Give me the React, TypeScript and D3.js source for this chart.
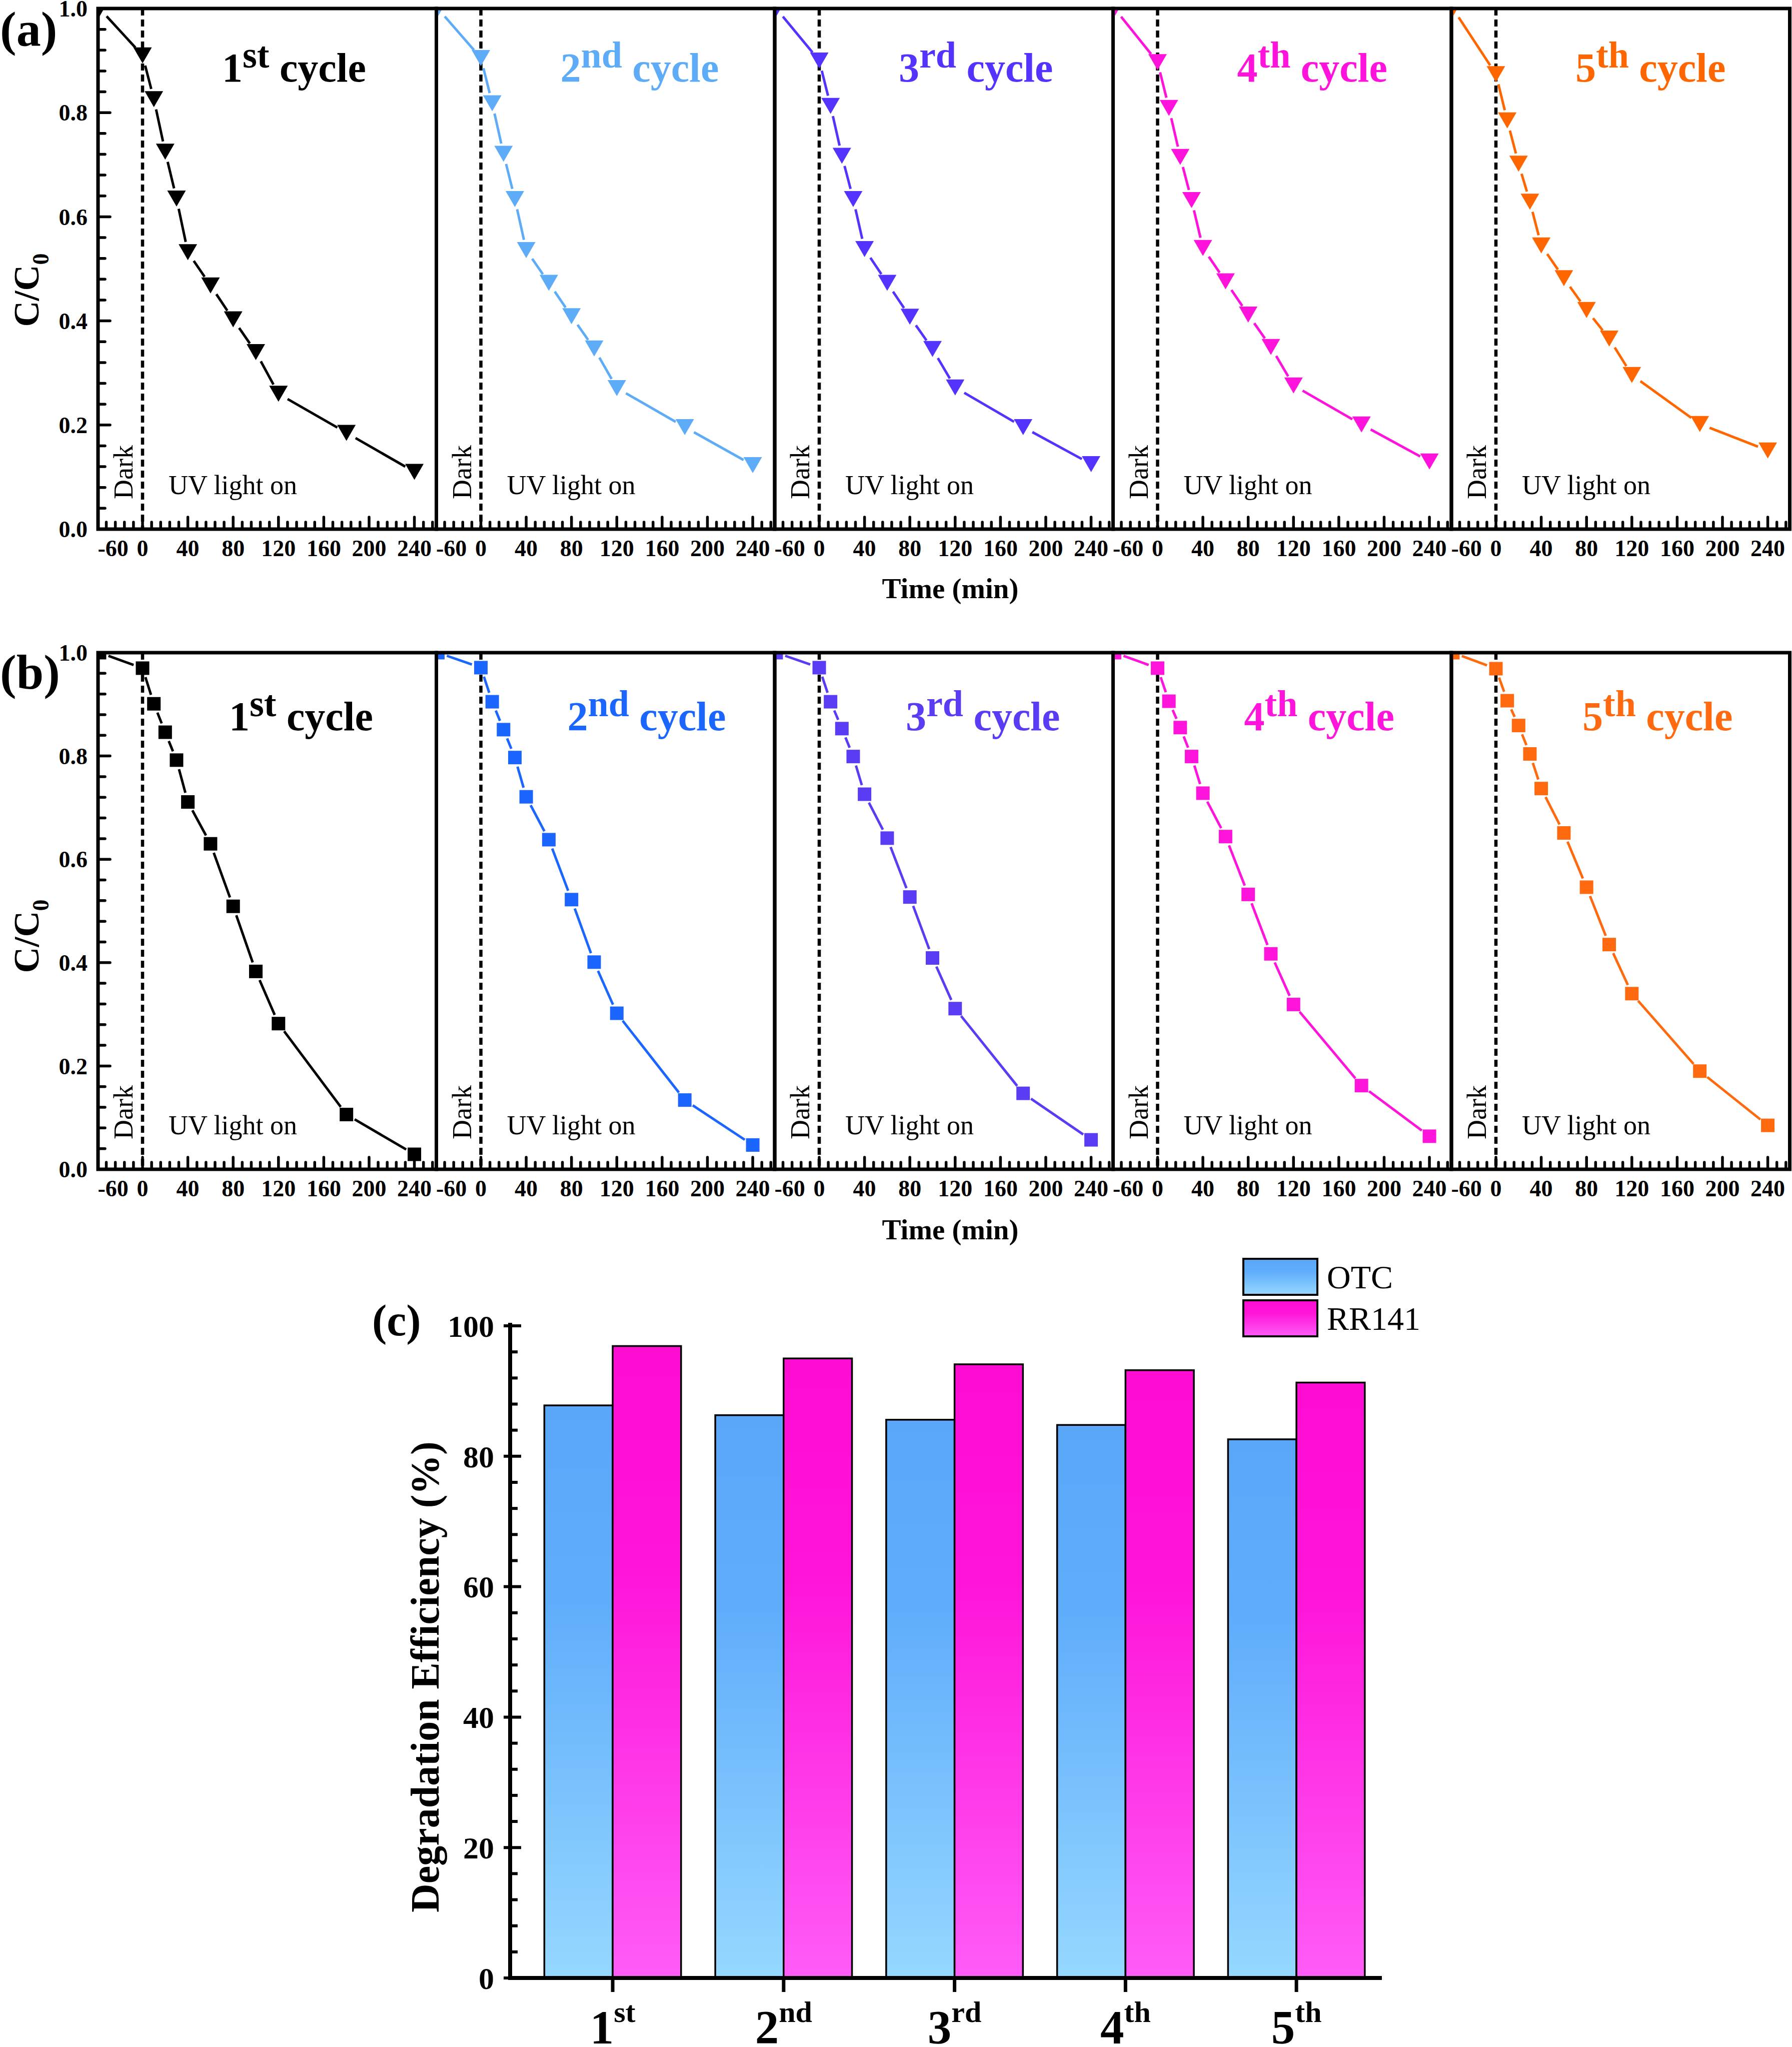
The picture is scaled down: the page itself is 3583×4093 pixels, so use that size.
import React from "react";
import * as d3 from "d3";

// ---------- data ----------
const TIME = [-38, 0, 10, 20, 30, 40, 60, 80, 100, 120, 180, 240];

// (a) OTC, C/C0
const OTC_C1 = [1.0, 0.91, 0.826, 0.725, 0.635, 0.532, 0.468, 0.403, 0.34, 0.26, 0.185, 0.11];
const OTC_C2 = [1.0, 0.905, 0.818, 0.721, 0.634, 0.536, 0.473, 0.409, 0.347, 0.271, 0.196, 0.123];
const OTC_C3 = [1.0, 0.9, 0.813, 0.717, 0.634, 0.538, 0.473, 0.408, 0.346, 0.272, 0.196, 0.125];
const OTC_C4 = [1.0, 0.897, 0.809, 0.715, 0.632, 0.54, 0.476, 0.412, 0.35, 0.276, 0.201, 0.13];
const OTC_C5 = [1.0, 0.874, 0.785, 0.702, 0.629, 0.545, 0.482, 0.421, 0.366, 0.296, 0.202, 0.151];

// (b) RR141, C/C0
const RR_C1 = [1.0, 0.97, 0.901, 0.846, 0.792, 0.711, 0.63, 0.509, 0.383, 0.282, 0.106, 0.029];
const RR_C2 = [1.0, 0.971, 0.905, 0.851, 0.797, 0.721, 0.638, 0.522, 0.401, 0.302, 0.134, 0.047];
const RR_C3 = [1.0, 0.971, 0.905, 0.853, 0.799, 0.726, 0.641, 0.527, 0.409, 0.311, 0.147, 0.057];
const RR_C4 = [1.0, 0.97, 0.906, 0.855, 0.799, 0.728, 0.644, 0.532, 0.417, 0.319, 0.162, 0.064];
const RR_C5 = [1.0, 0.969, 0.907, 0.859, 0.804, 0.737, 0.651, 0.546, 0.435, 0.34, 0.19, 0.085];

const CYCLE_NUM = ["1", "2", "3", "4", "5"];
const CYCLE_SUP = ["st", "nd", "rd", "th", "th"];
const COLORS_A = ["#000000", "#5EACF7", "#5533FF", "#FF12DC", "#FF6600"];
const COLORS_B = ["#000000", "#1A66FF", "#5A3CF5", "#FF14DC", "#FF6A10"];

const X_TICKS = [0, 40, 80, 120, 160, 200, 240];
const X_DARK_TICK_POS = -26;
const X_DARK_TICK_LABEL = "-60";
const X_MINOR_STEP = 8;
const Y_TICKS = [0, 0.2, 0.4, 0.6, 0.8, 1.0];
const Y_MINOR_STEP = 0.04;

// (c) degradation efficiency
const BAR_CATS = [1, 2, 3, 4, 5];
const BAR_OTC = [87.8, 86.3, 85.6, 84.8, 82.6];
const BAR_RR = [96.9, 95.0, 94.1, 93.2, 91.3];
const BAR_Y_TICKS = [0, 20, 40, 60, 80, 100];
const BAR_Y_MINOR_STEP = 4;
const LEGEND = ["OTC", "RR141"];

// ---------- layout ----------
const W = 3583;
const H = 4093;
const SERIF = "'Liberation Serif', 'Times New Roman', Times, serif";
const PANEL_LEFT = 196;
const PANEL_W = 676.5;
const X_DOMAIN: [number, number] = [-39.3, 259.4];
const FRAME_W = 7;

function linesWithGap(pts: [number, number][], gap: number) {
  const segs: [number, number, number, number][] = [];
  for (let i = 0; i < pts.length - 1; i++) {
    const [x1, y1] = pts[i];
    const [x2, y2] = pts[i + 1];
    const dx = x2 - x1, dy = y2 - y1;
    const d = Math.hypot(dx, dy);
    if (d <= 2 * gap) continue;
    const ux = dx / d, uy = dy / d;
    segs.push([x1 + ux * gap, y1 + uy * gap, x2 - ux * gap, y2 - uy * gap]);
  }
  return segs;
}

function Panel(props: {
  id: string; idx: number; top: number; bottom: number; values: number[];
  color: string; marker: "tri" | "sq"; titleDx: number; titleDy: number;
}) {
  const { id, idx, top, bottom, values, color, marker, titleDx, titleDy } = props;
  const left = PANEL_LEFT + idx * PANEL_W;
  const right = left + PANEL_W;
  const x = d3.scaleLinear().domain(X_DOMAIN).range([left, right]);
  const y = d3.scaleLinear().domain([0, 1]).range([bottom, top]);
  const pts: [number, number][] = TIME.map((t, i) => [x(t), y(values[i])]);
  const gap = marker === "tri" ? 21 : 19;
  const segs = linesWithGap(pts, gap);
  const minor: number[] = [];
  for (let t = -32; t <= X_DOMAIN[1]; t += X_MINOR_STEP) {
    if (t % 40 !== 0) minor.push(t);
  }
  const yMinor: number[] = [];
  for (let v = 0; v <= 1.0001; v += Y_MINOR_STEP) yMinor.push(v);
  const x0 = x(0);
  const tri = "M-18.5,-16L18.5,-16L0,16Z";
  const sq = 13.5;
  return (
    <g>
      <defs>
        <clipPath id={`clip-${id}`}>
          <rect x={left} y={top} width={PANEL_W} height={bottom - top} />
        </clipPath>
      </defs>
      {/* dashed divider */}
      <line x1={x0} x2={x0} y1={top} y2={bottom} stroke="#000" strokeWidth={6.5} strokeDasharray="14 8" />
      {/* data line */}
      <g clipPath={`url(#clip-${id})`}>
        {segs.map((s, i) => (
          <line key={i} x1={s[0]} y1={s[1]} x2={s[2]} y2={s[3]} stroke={color} strokeWidth={5} />
        ))}
        {pts.map((p, i) =>
          marker === "tri" ? (
            <path key={i} d={tri} transform={`translate(${p[0]},${p[1]})`} fill={color} />
          ) : (
            <rect key={i} x={p[0] - sq} y={p[1] - sq} width={2 * sq} height={2 * sq} fill={color} />
          )
        )}
      </g>
      {/* x ticks inward */}
      {minor.map((t) => (
        <line key={"m" + t} x1={x(t)} x2={x(t)} y1={bottom} y2={bottom - 14} stroke="#000" strokeWidth={5.5} strokeLinecap="round" />
      ))}
      {X_TICKS.map((t) => (
        <line key={"M" + t} x1={x(t)} x2={x(t)} y1={bottom} y2={bottom - 24} stroke="#000" strokeWidth={5.5} strokeLinecap="round" />
      ))}
      {/* y ticks only on first panel */}
      {idx === 0 &&
        yMinor.map((v, i) => (
          <line key={"y" + i} x1={left} x2={left + (i % 5 === 0 ? 24 : 14)} y1={y(v)} y2={y(v)} stroke="#000" strokeWidth={5.5} strokeLinecap="round" />
        ))}
      {/* frame */}
      <rect x={left} y={top} width={PANEL_W} height={bottom - top} fill="none" stroke="#000" strokeWidth={FRAME_W} />
      {/* x tick labels */}
      <g fontFamily={SERIF} fontWeight="bold" fontSize={46} textAnchor="middle">
        <text x={x(X_DARK_TICK_POS)} y={bottom + 54}>{X_DARK_TICK_LABEL}</text>
        {X_TICKS.map((t) => (
          <text key={t} x={x(t)} y={bottom + 54}>{t}</text>
        ))}
      </g>
      {idx === 0 && (
        <g fontFamily={SERIF} fontWeight="bold" fontSize={46} textAnchor="end">
          {Y_TICKS.map((v) => (
            <text key={v} x={left - 21} y={y(v)} dy="0.35em">{v.toFixed(1)}</text>
          ))}
        </g>
      )}
      {/* title */}
      <text x={left + titleDx} y={top + titleDy} fontFamily={SERIF} fontWeight="bold" fontSize={82} fill={color}>
        {CYCLE_NUM[idx]}
        <tspan dy={-28} fontSize={74}>{CYCLE_SUP[idx]}</tspan>
        <tspan dy={28} fontSize={82}>{" cycle"}</tspan>
      </text>
      {/* annotations */}
      <text x={x0 + 52} y={bottom - 70} fontFamily={SERIF} fontSize={54} fill="#000">UV light on</text>
      <text transform={`translate(${x0 - 20},${bottom - 60}) rotate(-90)`} fontFamily={SERIF} fontSize={54} fill="#000">Dark</text>
    </g>
  );
}

function Row(props: { id: string; top: number; bottom: number; series: number[][]; colors: string[]; marker: "tri" | "sq"; tag: string; tagY: number; ylabelY: number; xlabelY: number; titleDx: number; titleDy: number }) {
  const { id, top, bottom, series, colors, marker, tag, tagY, ylabelY, xlabelY, titleDx, titleDy } = props;
  return (
    <g>
      {series.map((vals, i) => (
        <Panel key={i} id={`${id}${i}`} idx={i} top={top} bottom={bottom} values={vals} color={colors[i]} marker={marker} titleDx={titleDx} titleDy={titleDy} />
      ))}
      <text x={0} y={tagY} fontFamily={SERIF} fontWeight="bold" fontSize={98}>{tag}</text>
      <text transform={`translate(77,${ylabelY}) rotate(-90)`} textAnchor="middle" fontFamily={SERIF} fontWeight="bold" fontSize={72}>
        C/C<tspan dy={20} fontSize={46}>0</tspan>
      </text>
      <text x={1900} y={xlabelY} textAnchor="middle" fontFamily={SERIF} fontWeight="bold" fontSize={57}>Time (min)</text>
    </g>
  );
}

function BarChart() {
  const x = d3.scaleLinear().domain([0.4, 5.5]).range([1020, 2763]);
  const y = d3.scaleLinear().domain([0, 100]).range([3955, 2651]);
  const bw = 0.4;
  const minor: number[] = [];
  for (let v = 0; v <= 100; v += BAR_Y_MINOR_STEP) if (v % 20 !== 0) minor.push(v);
  const legendY = [2517, 2600];
  return (
    <g>
      <defs>
        <linearGradient id="gOTC" x1="0" y1="0" x2="0" y2="1">
          <stop offset="0" stopColor="#5AA7FA" />
          <stop offset="0.35" stopColor="#60ADFB" />
          <stop offset="1" stopColor="#95D8FF" />
        </linearGradient>
        <linearGradient id="gRR" x1="0" y1="0" x2="0" y2="1">
          <stop offset="0" stopColor="#FF0CD3" />
          <stop offset="0.35" stopColor="#FF14D8" />
          <stop offset="1" stopColor="#FF5CF7" />
        </linearGradient>
      </defs>
      {BAR_CATS.map((c, i) => (
        <g key={c}>
          <rect x={x(c - bw)} y={y(BAR_OTC[i])} width={x(c) - x(c - bw)} height={y(0) - y(BAR_OTC[i])} fill="url(#gOTC)" stroke="#000" strokeWidth={3.5} />
          <rect x={x(c)} y={y(BAR_RR[i])} width={x(c + bw) - x(c)} height={y(0) - y(BAR_RR[i])} fill="url(#gRR)" stroke="#000" strokeWidth={3.5} />
        </g>
      ))}
      {/* axes */}
      <line x1={x(0.4)} x2={x(0.4)} y1={y(0) + 4} y2={y(100) - 6} stroke="#000" strokeWidth={8} />
      <line x1={x(0.4) - 4} x2={x(5.5)} y1={y(0)} y2={y(0)} stroke="#000" strokeWidth={8} />
      {BAR_Y_TICKS.map((v) => (
        <line key={"M" + v} x1={x(0.4) - 13} x2={x(0.4) + 22} y1={y(v)} y2={y(v)} stroke="#000" strokeWidth={6} />
      ))}
      {minor.map((v) => (
        <line key={"m" + v} x1={x(0.4)} x2={x(0.4) + 15} y1={y(v)} y2={y(v)} stroke="#000" strokeWidth={6} />
      ))}
      {BAR_CATS.map((c) => (
        <line key={"x" + c} x1={x(c)} x2={x(c)} y1={y(0)} y2={y(0) + 28} stroke="#000" strokeWidth={7} />
      ))}
      <g fontFamily={SERIF} fontWeight="bold" fontSize={62} textAnchor="end">
        {BAR_Y_TICKS.map((v) => (
          <text key={v} x={x(0.4) - 32} y={y(v)} dy="0.35em">{v}</text>
        ))}
      </g>
      <g fontFamily={SERIF} fontWeight="bold" textAnchor="middle">
        {BAR_CATS.map((c, i) => (
          <text key={c} x={x(c)} y={4086} fontSize={95}>
            {CYCLE_NUM[i]}
            <tspan dy={-43} fontSize={60}>{CYCLE_SUP[i]}</tspan>
          </text>
        ))}
      </g>
      <text transform={`translate(877,3353) rotate(-90)`} textAnchor="middle" fontFamily={SERIF} fontWeight="bold" fontSize={80}>
        Degradation Efficiency (%)
      </text>
      <text x={744} y={2670} fontFamily={SERIF} fontWeight="bold" fontSize={88}>(c)</text>
      {LEGEND.map((name, i) => (
        <g key={name}>
          <rect x={2486} y={legendY[i]} width={148} height={72} fill={i === 0 ? "url(#gOTC)" : "url(#gRR)"} stroke="#000" strokeWidth={4} />
          <text x={2653} y={legendY[i] + 59} fontFamily={SERIF} fontSize={66}>{name}</text>
        </g>
      ))}
    </g>
  );
}

export default function App() {
  return (
    <div style={{ position: "absolute", left: 0, top: 0, width: W, height: H, background: "#fff" }}>
      <svg width={W} height={H} viewBox={`0 0 ${W} ${H}`} style={{ display: "block" }}>
        <rect width={W} height={H} fill="#fff" />
        <Row id="a" top={17} bottom={1058} series={[OTC_C1, OTC_C2, OTC_C3, OTC_C4, OTC_C5]} colors={COLORS_A} marker="tri" tag="(a)" tagY={91} ylabelY={580} xlabelY={1196} titleDx={248} titleDy={146} />
        <Row id="b" top={1305} bottom={2338} series={[RR_C1, RR_C2, RR_C3, RR_C4, RR_C5]} colors={COLORS_B} marker="sq" tag="(b)" tagY={1377} ylabelY={1872} xlabelY={2478} titleDx={262} titleDy={155} />
        <BarChart />
      </svg>
    </div>
  );
}
